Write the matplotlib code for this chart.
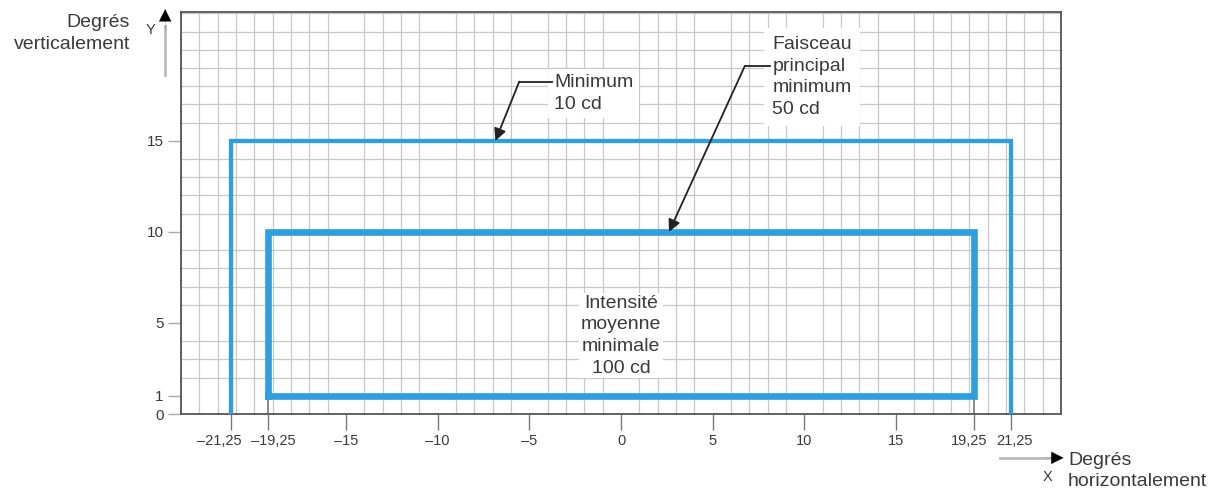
import matplotlib
matplotlib.use("Agg")
import matplotlib.pyplot as plt
import matplotlib.transforms as mtrans
import numpy as np

plt.rcParams['font.family'] = ['Liberation Sans', 'DejaVu Sans']

# ---- data ----
outer_x = [-21.25, -21.25, 21.25, 21.25]
outer_y = [0, 15, 15, 0]
inner_x = [-19.25, -19.25, 19.25, 19.25, -19.25]
inner_y = [1, 10, 10, 1, 1]
xtick_vals = [-21.25, -19.25, -15, -10, -5, 0, 5, 10, 15, 19.25, 21.25]
xtick_labels = ['–21,25', '–19,25', '–15', '–10', '–5', '0', '5', '10', '15', '19,25', '21,25']
ytick_vals = [0, 1, 5, 10, 15]
ytick_labels = ['0', '1', '5', '10', '15']
x_range = (-24, 24)
y_range = (0, 22.1)

ann_min_text = "Minimum\n10 cd"
ann_min_tip = (-6.85, 15)
ann_min_elbow = (-5.55, 18.25)
ann_min_textpos = (-3.65, 17.6)

ann_fais_text = "Faisceau\nprincipal\nminimum\n50 cd"
ann_fais_tip = (2.62, 10)
ann_fais_elbow = (6.75, 19.1)
ann_fais_textpos = (8.25, 18.5)

center_text = "Intensité\nmoyenne\nminimale\n100 cd"
center_pos = (0, 4.3)

blue = '#2E9EDE'
txtc = '#3a3a3a'

fig = plt.figure(figsize=(12.23, 4.94), dpi=100)
ax = fig.add_axes([181/1223, (494-414)/494, 880/1223, 402.5/494])
ax.set_xlim(*x_range)
ax.set_ylim(*y_range)

# grid
ax.set_xticks(np.arange(-24, 25, 1), minor=True)
ax.set_yticks(np.arange(0, 23, 1), minor=True)
ax.grid(which='minor', color='#c8c8c8', lw=0.9)
ax.tick_params(which='minor', length=0)
ax.set_axisbelow(True)

ax.set_xticks(xtick_vals)
ax.set_xticklabels(xtick_labels)
ax.set_yticks(ytick_vals)
ax.set_yticklabels(ytick_labels)
ax.tick_params(axis='x', which='major', length=11.5, width=1.0, color='#777777',
               labelsize=10.5, labelcolor=txtc, pad=3)
ax.tick_params(axis='y', which='major', length=9.5, width=1.0, color='#aaaaaa',
               labelsize=11, labelcolor=txtc, pad=3)
for s in ax.spines.values():
    s.set_color('#555555')
    s.set_linewidth(1.3)

# nudge crowded x tick labels apart (pixels)
label_shift = {0: -12, 1: 5, 9: -5, 10: 4}
for i, lab in enumerate(ax.get_xticklabels()):
    if i in label_shift:
        lab.set_transform(lab.get_transform() +
                          mtrans.ScaledTranslation(label_shift[i] / 100, 0, fig.dpi_scale_trans))

# small marks between 0 and 1 at ±19.25
for xv in (inner_x[0], inner_x[2]):
    ax.plot([xv, xv], [0, inner_y[0]], color='#777777', lw=1.2, zorder=2)

# rectangles
ax.plot(outer_x, outer_y, color=blue, lw=3.1, solid_joinstyle='miter', zorder=3)
ax.plot(inner_x, inner_y, color=blue, lw=4.8, solid_joinstyle='miter', zorder=3)

fs = 14
ls = 1.35
# center text
ax.text(center_pos[0], center_pos[1], center_text, ha='center', va='center', fontsize=fs,
        color=txtc, linespacing=ls, zorder=5,
        bbox=dict(facecolor='white', edgecolor='none', pad=1))

# Minimum annotation
ax.text(ann_min_textpos[0], ann_min_textpos[1], ann_min_text, ha='left', va='center',
        fontsize=fs, color=txtc, linespacing=ls, zorder=5,
        bbox=dict(facecolor='white', edgecolor='none', pad=4))
ax.plot([ann_min_elbow[0], ann_min_textpos[0] - 0.1], [ann_min_elbow[1]] * 2,
        color='#222222', lw=1.3, zorder=6)
ax.annotate('', xy=ann_min_tip, xytext=ann_min_elbow,
            arrowprops=dict(arrowstyle='-|>', color='#222222', lw=1.3,
                            mutation_scale=18, shrinkA=0, shrinkB=0), zorder=6)

# Faisceau annotation
ax.text(ann_fais_textpos[0], ann_fais_textpos[1], ann_fais_text, ha='left', va='center',
        fontsize=fs, color=txtc, linespacing=ls, zorder=5,
        bbox=dict(facecolor='white', edgecolor='none', pad=6))
ax.plot([ann_fais_elbow[0], ann_fais_textpos[0] - 0.1], [ann_fais_elbow[1]] * 2,
        color='#222222', lw=1.3, zorder=6)
ax.annotate('', xy=ann_fais_tip, xytext=ann_fais_elbow,
            arrowprops=dict(arrowstyle='-|>', color='#222222', lw=1.3,
                            mutation_scale=18, shrinkA=0, shrinkB=0), zorder=6)

# axis arrows & labels (outside axes)
T = ax.transAxes
ax.plot([-0.018, -0.018], [0.842, 0.965], color='#bbbbbb', lw=2.0, transform=T, clip_on=False)
ax.annotate('', xy=(-0.018, 1.006), xytext=(-0.018, 0.955), xycoords=T, textcoords=T,
            arrowprops=dict(arrowstyle='-|>', color='black', lw=0.1, mutation_scale=22,
                            shrinkA=0, shrinkB=0))
ax.text(-0.035, 0.953, 'Y', transform=T, ha='center', va='center', fontsize=10.5, color=txtc)
ax.text(-0.058, 0.945, 'Degrés\nverticalement', transform=T, ha='right', va='center',
        fontsize=fs, color=txtc, linespacing=ls)

ax.plot([0.931, 0.99], [-0.109, -0.109], color='#bbbbbb', lw=2.0, transform=T, clip_on=False)
ax.annotate('', xy=(1.003, -0.109), xytext=(0.982, -0.109), xycoords=T, textcoords=T,
            arrowprops=dict(arrowstyle='-|>', color='black', lw=0.1, mutation_scale=22,
                            shrinkA=0, shrinkB=0))
ax.text(0.985, -0.157, 'X', transform=T, ha='center', va='center', fontsize=10.5, color=txtc)
ax.text(1.008, -0.142, 'Degrés\nhorizontalement', transform=T, ha='left', va='center',
        fontsize=fs, color=txtc, linespacing=ls)

fig.savefig('out.png', dpi=100)
